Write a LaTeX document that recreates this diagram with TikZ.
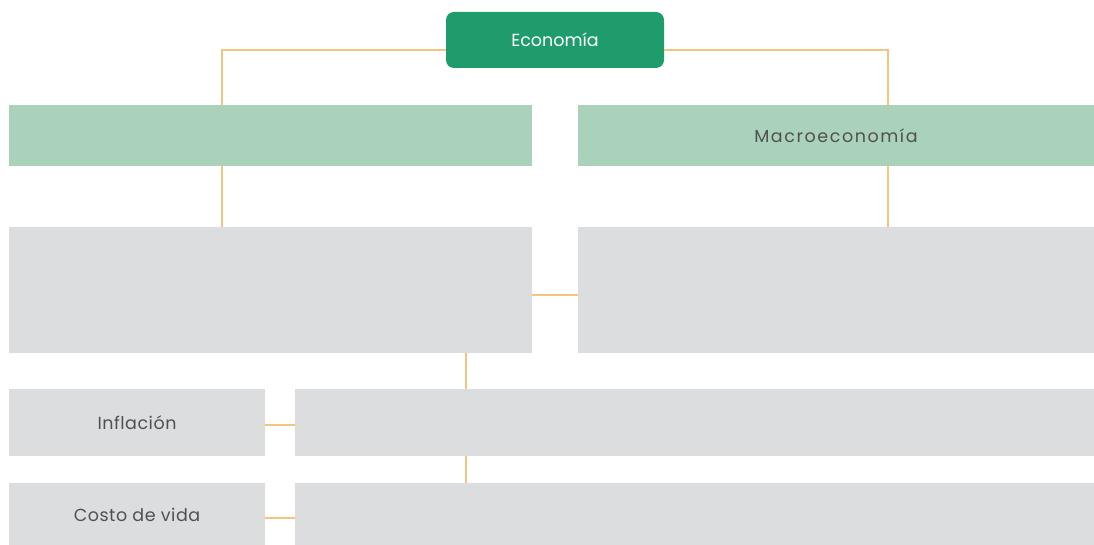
\documentclass[tikz,border=0pt]{standalone}
\usepackage{fontspec}
\setmainfont{Poppins}
\newfontfamily\spaced[LetterSpace=9]{Poppins}
\newfontfamily\lightspaced[LetterSpace=3]{Poppins}
\definecolor{ecogreen}{HTML}{1E9C6B}
\definecolor{lightgreen}{HTML}{AAD2BA}
\definecolor{boxgray}{HTML}{DCDDDF}
\definecolor{linkorange}{HTML}{F3C57E}
\definecolor{labeltext}{HTML}{505050}
\tikzset{
  box/.style={draw=none, inner sep=0pt, outer sep=0pt},
  greenbox/.style={box, fill=lightgreen},
  graybox/.style={box, fill=boxgray},
  topbox/.style={box, fill=ecogreen, rounded corners=8pt, text=white},
  lbl/.style={text=labeltext, font=\fontsize{17.5}{20}\selectfont\lightspaced},
  link/.style={draw=linkorange, line width=1.5pt},
}
\begin{document}
\begin{tikzpicture}[x=1pt, y=-1pt]
\useasboundingbox[fill=white] (0,0) rectangle (1094,545);
% nodes
\node[topbox, minimum width=218pt, minimum height=56pt, font=\fontsize{17.5}{20}\selectfont] (eco) at (555,40) {Economía};
\node[greenbox, minimum width=523pt, minimum height=61pt] (gl) at (270.5,135.5) {};
\node[greenbox, minimum width=516pt, minimum height=61pt, lbl] (gr) at (836,135.5) {\spaced Macroeconomía};
\node[graybox, minimum width=523pt, minimum height=126pt] (bl) at (270.5,290) {};
\node[graybox, minimum width=516pt, minimum height=126pt] (br) at (836,290) {};
\node[graybox, minimum width=256pt, minimum height=67pt, lbl] (inf) at (137,422.5) {Inflación};
\node[graybox, minimum width=799pt, minimum height=67pt] (infr) at (694.5,422.5) {};
\node[graybox, minimum width=256pt, minimum height=63pt, lbl] (cos) at (137,514.5) {Costo de vida};
\node[graybox, minimum width=799pt, minimum height=63pt] (cosr) at (694.5,514.5) {};
% helper coordinates for connector columns
\coordinate (lcol) at (222,0);
\coordinate (rcol) at (888,0);
\coordinate (mcol) at (466,0);
% connectors
\draw[link] ([yshift=-10pt]eco.west) -| (gl.north -| lcol);
\draw[link] ([yshift=-10pt]eco.east) -| (gr.north -| rcol);
\draw[link] (gl.south -| lcol) -- (bl.north -| lcol);
\draw[link] (gr.south -| rcol) -- (br.north -| rcol);
\draw[link] ([yshift=-5pt]bl.east) -- ([yshift=-5pt]br.west);
\draw[link] (bl.south -| mcol) -- (infr.north -| mcol);
\draw[link] (infr.south -| mcol) -- (cosr.north -| mcol);
\draw[link] ([yshift=-2.5pt]inf.east) -- ([yshift=-2.5pt]infr.west);
\draw[link] ([yshift=-3.5pt]cos.east) -- ([yshift=-3.5pt]cosr.west);
\end{tikzpicture}
\end{document}
